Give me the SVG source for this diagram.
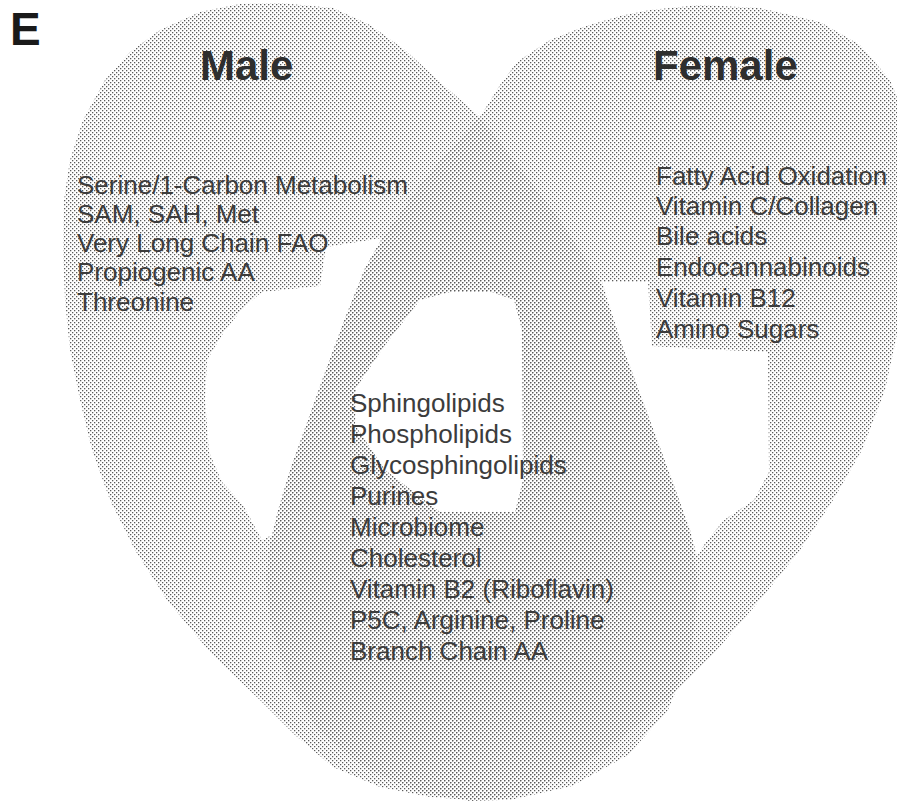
<svg xmlns="http://www.w3.org/2000/svg" width="897" height="803" viewBox="0 0 897 803">
  <defs>
    <pattern id="dots" width="4" height="4" patternUnits="userSpaceOnUse">
      <rect x="0" y="0" width="1.3" height="1.3" fill="#5a5a5a"/>
      <rect x="2" y="2" width="1.3" height="1.3" fill="#5a5a5a"/>
    </pattern>
  </defs>
  <style>
    .lobe { fill: url(#dots); stroke: none; }
    .hl { fill: #ffffff; stroke: none; }
    .title { font-family: "Liberation Sans", Arial, sans-serif; font-weight: bold; font-size: 42px; fill: #2e2e2e; }
    .item { font-family: "Liberation Sans", Arial, sans-serif; font-size: 26px; fill: #3c3c3c; }
    .panel { font-family: "Liberation Sans", Arial, sans-serif; font-weight: bold; font-size: 46px; fill: #1a1a1a; }
  </style>
  <rect width="897" height="803" fill="#ffffff"/>

  <g id="shapes">
    <path id="male-lobe" class="lobe" d="M 470 800 L 430 797 L 380 787 L 333 767 L 295 735 L 260 700 L 210 652 L 167 600 L 135 550 L 110 500 L 92 450 L 80 400 L 70 350 L 65 300 L 63 250 L 64 200 L 70 160 L 83 120 L 105 80 L 130 52 L 160 30 L 200 12 L 240 4 L 280 3 L 333 8 L 370 25 L 405 50 L 440 82 L 480 117 L 520 168 L 560 220 L 597 277 L 622 345 L 648 415 L 672 480 L 690 530 L 698 585 L 692 650 L 668 710 L 628 755 L 572 786 L 510 800 Z"/>
    <path id="female-lobe" class="lobe" d="M 480 117 L 500 85 L 517 62 L 550 40 L 583 27 L 620 16 L 650 10 L 700 5 L 760 8 L 820 22 L 860 45 L 890 80 L 910 130 L 918 200 L 912 260 L 900 320 L 885 390 L 862 450 L 833 500 L 800 550 L 760 600 L 715 652 L 667 700 L 620 740 L 577 767 L 540 787 L 500 800 L 470 801 L 420 792 L 365 768 L 318 730 L 287 680 L 270 620 L 266 580 L 270 545 L 278 510 L 290 470 L 305 428 L 325 372 L 345 318 L 365 268 L 385 235 L 420 185 L 450 150 Z"/>
  </g>

  <g id="highlights">
    <path class="hl" d="M 326 247 L 382 238 L 365 268 L 345 318 L 325 372 L 305 428 L 290 470 L 278 510 L 272 535 L 262 540 L 243 505 L 222 482 L 209 452 L 205 400 L 207 360 L 225 330 L 245 306 L 262 292 L 320 286 Z"/>
    <path class="hl" d="M 420 300 L 450 292 L 492 292 L 514 300 L 522 330 L 523 480 L 515 512 L 440 512 L 385 470 L 355 425 L 356 388 L 385 345 Z"/>
    <path class="hl" d="M 602 282 L 648 282 L 652 346 L 700 349 L 768 352 L 769 472 L 754 500 L 724 520 L 706 542 L 697 556 L 690 530 L 672 480 L 648 415 L 622 345 Z"/>
  </g>

  <g id="connectors"></g>

  <text id="panel-label" class="panel" x="10" y="45">E</text>

  <g id="male">
    <text class="title" x="200" y="80">Male</text>
    <text class="item" x="77" y="194">Serine/1-Carbon Metabolism</text>
    <text class="item" x="77" y="223">SAM, SAH, Met</text>
    <text class="item" x="77" y="252">Very Long Chain FAO</text>
    <text class="item" x="77" y="281">Propiogenic AA</text>
    <text class="item" x="77" y="311">Threonine</text>
  </g>

  <g id="female">
    <text class="title" x="653" y="80">Female</text>
    <text class="item" x="656" y="185">Fatty Acid Oxidation</text>
    <text class="item" x="656" y="215">Vitamin C/Collagen</text>
    <text class="item" x="656" y="245">Bile acids</text>
    <text class="item" x="656" y="276">Endocannabinoids</text>
    <text class="item" x="656" y="307">Vitamin B12</text>
    <text class="item" x="656" y="338">Amino Sugars</text>
  </g>

  <g id="shared">
    <text class="item" x="350" y="412">Sphingolipids</text>
    <text class="item" x="350" y="443">Phospholipids</text>
    <text class="item" x="350" y="474">Glycosphingolipids</text>
    <text class="item" x="350" y="505">Purines</text>
    <text class="item" x="350" y="536">Microbiome</text>
    <text class="item" x="350" y="567">Cholesterol</text>
    <text class="item" x="350" y="598">Vitamin B2 (Riboflavin)</text>
    <text class="item" x="350" y="629">P5C, Arginine, Proline</text>
    <text class="item" x="350" y="660">Branch Chain AA</text>
  </g>
</svg>
